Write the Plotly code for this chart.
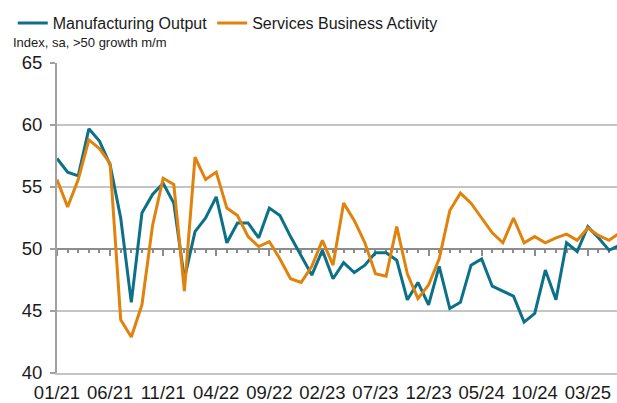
import plotly.graph_objects as go

months = [f"{m:02d}/{y}" for y in range(21, 26) for m in range(1, 13)][:54]

manufacturing_output = [
    57.3, 56.2, 55.9, 59.7, 58.7, 56.8, 52.5, 45.7, 52.9, 54.4,
    55.3, 53.7, 47.6, 51.4, 52.5, 54.2, 50.5, 52.1, 52.1, 50.9,
    53.3, 52.7, 51.0, 49.5, 47.9, 49.9, 47.6, 48.9, 48.1, 48.7,
    49.7, 49.7, 49.1, 45.9, 47.3, 45.5, 48.6, 45.2, 45.7, 48.7,
    49.2, 47.0, 46.6, 46.2, 44.1, 44.8, 48.3, 45.9, 50.5, 49.8,
    51.8, 50.9, 49.9, 50.3,
]

services_activity = [
    55.6, 53.4, 55.6, 58.8, 58.1, 56.9, 44.3, 42.9, 45.5, 51.9,
    55.7, 55.2, 46.6, 57.4, 55.6, 56.2, 53.3, 52.7, 51.0, 50.2,
    50.6, 49.2, 47.6, 47.3, 48.6, 50.7, 48.7, 53.7, 52.3, 50.5,
    48.0, 47.8, 51.8, 48.0, 46.0, 47.1, 49.2, 53.1, 54.5, 53.7,
    52.5, 51.3, 50.5, 52.5, 50.5, 51.0, 50.5, 50.9, 51.2, 50.7,
    51.7, 51.1, 50.7, 51.3,
]

tick_labels = months[::5]
x_idx = list(range(len(months)))

TEAL = "#0b7088"
ORANGE = "#e0820c"
FONT = "Liberation Sans, Arial, sans-serif"

fig = go.Figure()
fig.add_trace(go.Scatter(x=x_idx, y=manufacturing_output, mode="lines",
                         name="Manufacturing Output",
                         line=dict(color=TEAL, width=3)))
fig.add_trace(go.Scatter(x=x_idx, y=services_activity, mode="lines",
                         name="Services Business Activity",
                         line=dict(color=ORANGE, width=3)))
# helper trace so the 50-line axis with month ticks is drawn
fig.add_trace(go.Scatter(x=[0, len(months) - 1], y=[50, 50], mode="lines",
                         xaxis="x2", showlegend=False, hoverinfo="skip",
                         opacity=0, line=dict(width=1)))

xrange = [0, 52.75]

fig.update_layout(
    width=617, height=403,
    margin=dict(l=57, r=0, t=63, b=30, autoexpand=False),
    paper_bgcolor="white", plot_bgcolor="white",
    font=dict(family=FONT, color="#1a1a1a"),
    showlegend=True,
    legend=dict(orientation="h", x=-0.079, xanchor="left",
                y=1.129, yanchor="middle",
                font=dict(size=16, family=FONT, color="#1a1a1a"),
                bgcolor="rgba(0,0,0,0)", itemwidth=30,
                tracegroupgap=0),
    xaxis=dict(range=xrange, tickmode="array",
               tickvals=x_idx[::5], ticktext=tick_labels,
               showgrid=False, zeroline=False,
               showline=True, linecolor="#c4c4c4", linewidth=2,
               ticks="", ticklabelstandoff=2,
               tickfont=dict(size=18.5, family=FONT, color="#1a1a1a")),
    xaxis2=dict(range=xrange, overlaying="x", anchor="free", position=0.4,
                side="bottom", showticklabels=False, showgrid=False,
                zeroline=False, showline=True, linecolor="#8c8c8c",
                linewidth=2, layer="below traces",
                tickmode="linear", tick0=0, dtick=5,
                ticks="outside", ticklen=6, tickwidth=2, tickcolor="#8c8c8c",
                minor=dict(tickmode="linear", tick0=0, dtick=1,
                           ticks="outside", ticklen=3, tickwidth=2,
                           tickcolor="#8c8c8c")),
    yaxis=dict(range=[40, 65], dtick=5, tick0=40,
               showgrid=True, gridcolor="#c4c4c4", gridwidth=2,
               zeroline=False, showline=True, linecolor="#a0a0a0",
               linewidth=2, ticks="outside", ticklen=5, tickwidth=2,
               tickcolor="#a0a0a0", ticklabelstandoff=4,
               tickfont=dict(size=18.5, family=FONT, color="#1a1a1a")),
)

fig.add_annotation(text="Index, sa, >50 growth m/m", xref="paper", yref="paper",
                   x=-0.082, y=1.066, xanchor="left", yanchor="middle",
                   showarrow=False,
                   font=dict(size=13, family=FONT, color="#1a1a1a"))

fig.write_html("out.html", config={"displayModeBar": False},
               post_script="document.body.style.margin='0';document.body.style.overflow='hidden';")
